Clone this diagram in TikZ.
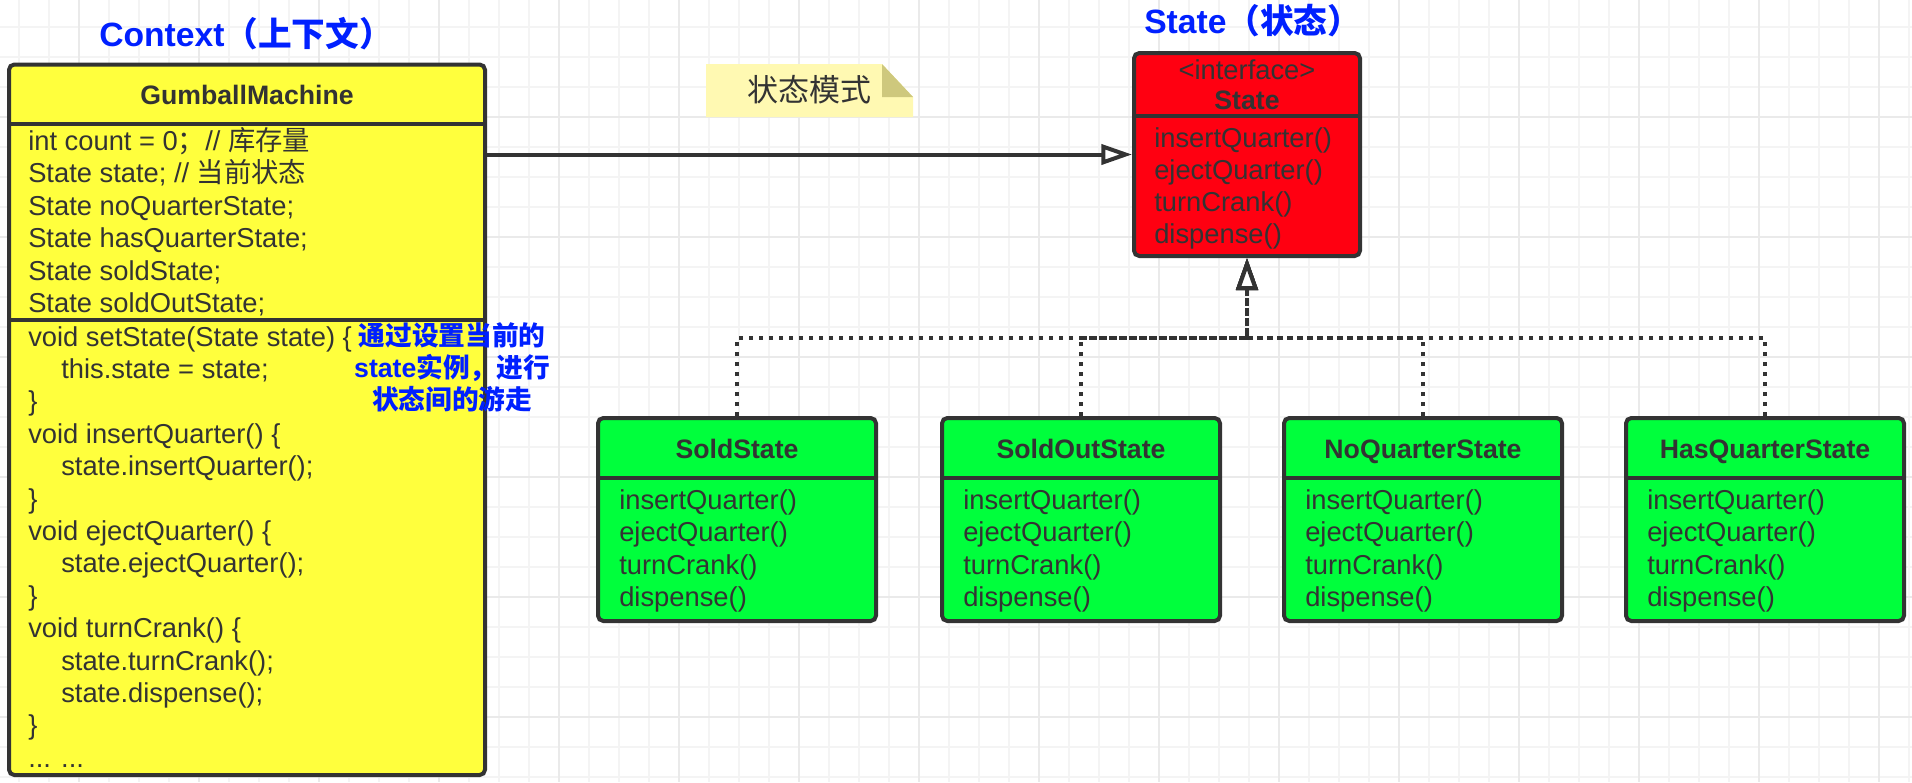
\documentclass[tikz,border=0pt]{standalone}
\usepackage{fontspec}
\setmainfont{Liberation Sans}
\newfontfamily\cjk{Noto Sans CJK SC}
\usetikzlibrary{arrows.meta,fit}
\definecolor{ink}{HTML}{333333}
\definecolor{yfill}{RGB}{255,255,61}
\definecolor{rfill}{RGB}{255,0,17}
\definecolor{gfill}{RGB}{0,255,60}
\definecolor{blu}{RGB}{0,32,255}
\definecolor{notefill}{RGB}{255,249,178}
\definecolor{notefold}{RGB}{206,200,125}
\definecolor{gminor}{RGB}{244,244,244}
\definecolor{gmajor}{RGB}{234,234,234}
\tikzset{
  umlbox/.style={draw=ink, line width=3pt, rounded corners=4pt, inner sep=0pt},
  sepline/.style={draw=ink, line width=3pt},
  txt/.style={inner sep=0pt, anchor=base west, text=ink, font=\fontsize{20.5pt}{24pt}\selectfont},
  hdr/.style={inner sep=0pt, anchor=base, text=ink, font=\fontsize{20pt}{24pt}\selectfont\bfseries},
  ctr/.style={inner sep=0pt, anchor=base, text=ink, font=\fontsize{20.5pt}{24pt}\selectfont},
  ann/.style={inner sep=0pt, anchor=base, text=blu, font=\fontsize{20pt}{24pt}\selectfont\bfseries},
  ttl/.style={inner sep=0pt, anchor=base west, text=blu, font=\fontsize{25.25pt}{30pt}\selectfont\bfseries},
  assoc/.style={draw=ink, line width=3pt, -{Triangle[open, fill=white, length=23pt, width=15pt]}},
  realize/.style={draw=ink, line width=3pt, line cap=butt, dash pattern=on 3pt off 4.5pt, -{Triangle[open, fill=white, length=24pt, width=16pt]}},
}
\begin{document}
\begin{tikzpicture}[x=0.75pt, y=-0.75pt]
\useasboundingbox (0,0) rectangle (1912,782);
% background grid
\foreach \x in {19,49,...,1909} \draw[gminor, line width=1.3pt] (\x,0) -- (\x,782);
\foreach \y in {26.67,56.67,...,776.67} \draw[gminor, line width=1.3pt] (0,\y) -- (1912,\y);
\foreach \x in {79,199,...,1879} \draw[gmajor, line width=1.3pt] (\x,0) -- (\x,782);
\foreach \y in {116.67,236.67,...,716.67} \draw[gmajor, line width=1.3pt] (0,\y) -- (1912,\y);

% titles
\node[ttl] (t1) at (99,46) {Context{\cjk （上下文）}};
\node[ttl] (t2) at (1144,33) {State{\cjk （状态）}};

% note
\fill[notefill] (706,64) -- (882,64) -- (913,97) -- (913,117) -- (706,117) -- cycle;
\fill[notefold] (882,64) -- (882,97) -- (913,97) -- cycle;
\node[inner sep=0pt, anchor=base, text=ink, font=\fontsize{23.25pt}{28pt}\selectfont\cjk] (note) at (809,101.5) {状态模式};

% GumballMachine
\node[umlbox, fill=yfill, fit={(9,64.5) (485,775)}] (gm) {};
\draw[sepline] (9,124) -- (485,124);
\draw[sepline] (9,320) -- (485,320);
\node[hdr] (gmname) at (247,104.3) {GumballMachine};
\foreach \t [count=\i from 0] in {
  {int count = 0{\cjk ；}// {\cjk 库存量}},
  {State state; // {\cjk 当前状态}},
  {State noQuarterState;},
  {State hasQuarterState;},
  {State soldState;},
  {State soldOutState;}}
  \node[txt] (gma\i) at (28,150.5+32.4*\i) {\t};
\foreach \t/\ind [count=\i from 0] in {
  {void setState(State state) \{}/28,
  {this.state = state;}/61,
  {\}}/28,
  {void insertQuarter() \{}/28,
  {state.insertQuarter();}/61,
  {\}}/28,
  {void ejectQuarter() \{}/28,
  {state.ejectQuarter();}/61,
  {\}}/28,
  {void turnCrank() \{}/28,
  {state.turnCrank();}/61,
  {state.dispense();}/61,
  {\}}/28,
  {... ...}/28}
  \node[txt] (gmm\i) at (\ind,346+32.4*\i) {\t};

% annotation
\node[ann] (an1) at (452,345) {\cjk 通过设置当前的};
\node[ann] (an2) at (452,377) {state{\cjk 实例，进行}};
\node[ann] (an3) at (452,409) {\cjk 状态间的游走};

% State interface
\node[umlbox, fill=rfill, fit={(1134,53) (1360,256)}] (st) {};
\draw[sepline] (1134,116) -- (1360,116);
\node[ctr] (stint) at (1247,79.5) {<interface>};
\node[hdr] (stname) at (1247,109.5) {State};
\foreach \t [count=\i from 0] in {insertQuarter(),ejectQuarter(),turnCrank(),dispense()}
  \node[txt] (stm\i) at (1154,147+32*\i) {\t};

% concrete states
\foreach \nm/\lab/\l in {sold/SoldState/598, soldout/SoldOutState/942, noq/NoQuarterState/1284, hasq/HasQuarterState/1626}{
  \node[umlbox, fill=gfill, fit={(\l,418) (\l+278,621)}] (\nm) {};
  \draw[sepline] (\l,478) -- (\l+278,478);
  \node[hdr] (\nm-name) at (\l+139,458) {\lab};
  \foreach \t [count=\i from 0] in {insertQuarter(),ejectQuarter(),turnCrank(),dispense()}
    \node[txt] (\nm-m\i) at (\l+21,509+32.5*\i) {\t};
}

% connectors
\draw[assoc] (gm.east |- st.west) -- (st.west);
\coordinate (bus) at (1247,338);
\foreach \nm in {sold,soldout,noq,hasq}
  \draw[realize] (\nm.north) |- (bus) -- (st.south);
\end{tikzpicture}
\end{document}
